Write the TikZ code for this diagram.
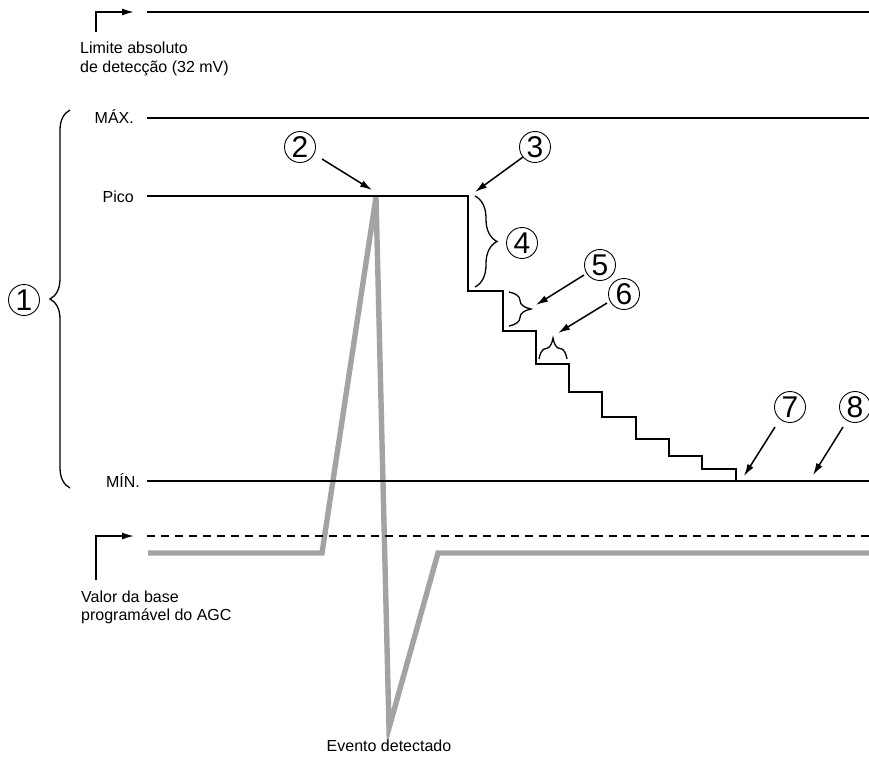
\documentclass[tikz,border=0pt]{standalone}
\usepackage{fontspec}
\setmainfont{Liberation Sans}
\usetikzlibrary{arrows.meta,decorations.pathreplacing}
\definecolor{wavegray}{RGB}{163,163,163}
\begin{document}
\begin{tikzpicture}[x=1pt,y=-1pt,
  lvl/.style={line width=2.9pt},
  wave/.style={line width=5.4pt,draw=wavegray},
  ptr/.style={line width=1.5pt,-{Latex[length=12pt,width=7pt]}},
  num/.style={circle,draw,line width=0.9pt,minimum size=31pt,inner sep=0pt,font=\fontsize{30}{30}\selectfont},
  lbl/.style={font=\fontsize{16}{19}\selectfont,inner sep=0pt},
  brc/.style={decorate,decoration={brace,amplitude=#1},line width=1.3pt}
]
\useasboundingbox (0,0) rectangle (869,756);

% gray waveform
\coordinate (w1) at (148,553);
\coordinate (w2) at (322,553);
\coordinate (w3) at (376,197);
\coordinate (w4) at (389,728);
\coordinate (w5) at (438,553);
\coordinate (w6) at (870,553);
\draw[wave] (w1) -- (w2) -- (w3) -- (w4) -- (w5) -- (w6);

% absolute limit
\coordinate (top0) at (147,12);
\coordinate (top1) at (870,12);
\draw[lvl] (top0) -- (top1);
\coordinate (la0) at (96,32);
\coordinate (la1) at (134,12);
\draw[ptr] (la0) |- (la1);
\node[lbl,anchor=base west] (lim1) at (80,53) {Limite absoluto};
\node[lbl,anchor=base west] (lim2) at (80,72) {de detecção (32 mV)};

% MAX
\node[lbl,anchor=base east] (max) at (134,123) {MÁX.};
\coordinate (max0) at (147,118);
\coordinate (max1) at (870,118);
\draw[lvl] (max0) -- (max1);

% Pico and staircase
\node[lbl,anchor=base east] (pico) at (134,202) {Pico};
\coordinate (p0) at (147,196);
\draw[lvl,line join=miter] (p0) -- (468,196) -- (468,291) -- (503,291) -- (503,331)
  -- (536,331) -- (536,364) -- (569,364) -- (569,392) -- (602,392) -- (602,417)
  -- (636,417) -- (636,439) -- (669,439) -- (669,456) -- (702,456) -- (702,469)
  -- (736,469) -- (736,481);

% MIN
\node[lbl,anchor=base east] (min) at (140,487) {MÍN.};
\coordinate (min0) at (147,481);
\coordinate (min1) at (870,481);
\draw[lvl] (min0) -- (min1);

% AGC floor (dashed)
\coordinate (agc0) at (147,536);
\coordinate (agc1) at (870,536);
\draw[lvl,dash pattern=on 8pt off 6pt] (agc0) -- (agc1);
\coordinate (lb0) at (96,580);
\coordinate (lb1) at (134,536);
\draw[ptr] (lb0) |- (lb1);
\node[lbl,anchor=base west] (val1) at (81,602) {Valor da base};
\node[lbl,anchor=base west] (val2) at (81,620) {programável do AGC};

% Event detected
\node[lbl,anchor=base] (evt) at (389,751) {Evento detectado};

% big brace 1
\draw[brc=20] (70,488) -- (70,110);
\node[num] (n1) at (24,300) {1};

% numbered callouts
\node[num] (n2) at (300,147) {2};
\coordinate (t2) at (372,190);
\draw[ptr] (322,159) -- (t2);

\node[num] (n3) at (535,147) {3};
\coordinate (t3) at (475,192);
\draw[ptr] (523,157) -- (t3);

\node[num] (n4) at (522,243) {4};
\draw[brc=22] (475,196) -- (475,287);

\node[num] (n5) at (600,265) {5};
\draw[brc=22] (509,292) -- (509,326);
\coordinate (t5) at (536,305);
\draw[ptr] (584,275) -- (t5);

\node[num] (n6) at (624,294) {6};
\draw[brc=21] (539,359) -- (567,359);
\coordinate (t6) at (558,333);
\draw[ptr] (607,303) -- (t6);

\node[num] (n7) at (790,407) {7};
\coordinate (t7) at (744,476);
\draw[ptr] (775,427) -- (t7);

\node[num] (n8) at (855,407) {8};
\coordinate (t8) at (813,475);
\draw[ptr] (843,427) -- (t8);
\end{tikzpicture}
\end{document}
